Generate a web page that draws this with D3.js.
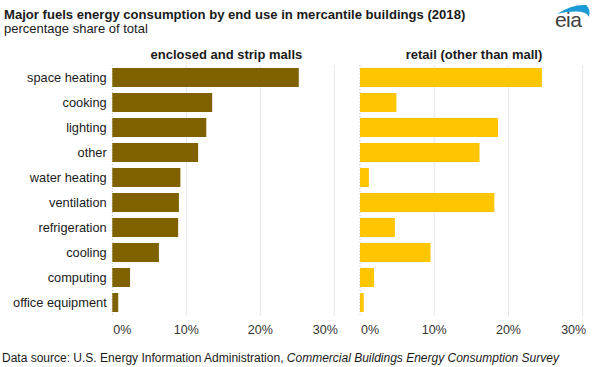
<!DOCTYPE html>
<html>
<head>
<meta charset="utf-8">
<script src="https://cdn.jsdelivr.net/npm/d3@7"></script>
<style>
  html, body { margin: 0; padding: 0; background: #fff; }
  svg { display: block; font-family: "Liberation Sans", Arial, sans-serif; }
</style>
</head>
<body>
<svg id="chart" width="595" height="367"></svg>
<script>
const categories = ["space heating", "cooking", "lighting", "other", "water heating",
  "ventilation", "refrigeration", "cooling", "computing", "office equipment"];
const panelTitles = ["enclosed and strip malls", "retail (other than mall)"];
const mallValues = [25.2, 13.5, 12.7, 11.6, 9.2, 9.0, 8.9, 6.3, 2.4, 0.8];
const retailValues = [24.5, 4.9, 18.6, 16.1, 1.2, 18.1, 4.7, 9.5, 1.9, 0.5];
const tickValues = [0, 10, 20, 30];
const tickLabels = ["0%", "10%", "20%", "30%"];

const svg = d3.select("#chart");

// titles
svg.append("text").attr("x", 4).attr("y", 18.5)
  .attr("font-size", 13.1).attr("font-weight", "bold").attr("fill", "#1a1a1a")
  .text("Major fuels energy consumption by end use in mercantile buildings (2018)");
svg.append("text").attr("x", 4).attr("y", 32.5)
  .attr("font-size", 13).attr("fill", "#1a1a1a")
  .text("percentage share of total");

// eia logo
const logo = svg.append("g");
logo.append("text").attr("x", 555).attr("y", 27)
  .attr("font-size", 21).attr("fill", "#3f3f3f").attr("letter-spacing", -0.6).text("eia");
logo.append("path")
  .attr("d", "M557,14 Q572,4 586,5 Q591,9 589,17 Q585,8 557,14 Z")
  .attr("fill", "#1d9bd7");

const y = d3.scaleBand().domain(categories).range([65, 315])
  .paddingInner(0.24).paddingOuter(0.12);

const panels = [
  { values: mallValues, title: panelTitles[0], x0: 112.3, x1: 334.3, color: "#806100", titleX: 226.4 },
  { values: retailValues, title: panelTitles[1], x0: 360, x1: 582.7, color: "#ffc600", titleX: 474 }
];

panels.forEach((p, pi) => {
  const x = d3.scaleLinear().domain([0, 30]).range([p.x0, p.x1]);
  const g = svg.append("g");

  // gridlines
  g.selectAll("line.grid").data(tickValues.filter(d => d > 0)).join("line")
    .attr("x1", d => x(d)).attr("x2", d => x(d))
    .attr("y1", 65).attr("y2", 316)
    .attr("stroke", "#e6e6e6").attr("stroke-width", 1);

  // zero line (dotted)
  g.append("line").attr("x1", x(0)).attr("x2", x(0)).attr("y1", 65).attr("y2", 316)
    .attr("stroke", "#bdbdbd").attr("stroke-width", 1).attr("stroke-dasharray", "1,2");

  // bars
  g.selectAll("rect").data(p.values).join("rect")
    .attr("x", x(0))
    .attr("y", (d, i) => y(categories[i]))
    .attr("width", d => x(d) - x(0))
    .attr("height", y.bandwidth())
    .attr("fill", p.color);

  // panel title
  g.append("text").attr("x", p.titleX).attr("y", 59).attr("text-anchor", "middle")
    .attr("font-size", 13).attr("font-weight", "bold").attr("fill", "#1a1a1a")
    .text(p.title);

  // tick labels
  g.selectAll("text.tick").data(tickValues).join("text")
    .attr("class", "tick")
    .attr("x", (d, i) => i === 0 ? x(d) + 1 : (i === tickValues.length - 1 ? x(d) + 3.5 : x(d)))
    .attr("y", 333.5)
    .attr("text-anchor", (d, i) => i === 0 ? "start" : (i === tickValues.length - 1 ? "end" : "middle"))
    .attr("font-size", 12.5).attr("fill", "#333")
    .text((d, i) => tickLabels[i]);

  // category labels for left panel
  if (pi === 0) {
    g.selectAll("text.cat").data(categories).join("text")
      .attr("class", "cat")
      .attr("x", 106.7)
      .attr("y", d => y(d) + y.bandwidth() / 2)
      .attr("dy", "0.35em")
      .attr("text-anchor", "end")
      .attr("font-size", 12.8).attr("fill", "#1a1a1a")
      .text(d => d);
  }
});

// source
const src = svg.append("text").attr("x", 2).attr("y", 361.5)
  .attr("font-size", 12).attr("fill", "#1a1a1a");
src.append("tspan").text("Data source: U.S. Energy Information Administration, ");
src.append("tspan").attr("font-style", "italic").text("Commercial Buildings Energy Consumption Survey");
</script>
</body>
</html>
